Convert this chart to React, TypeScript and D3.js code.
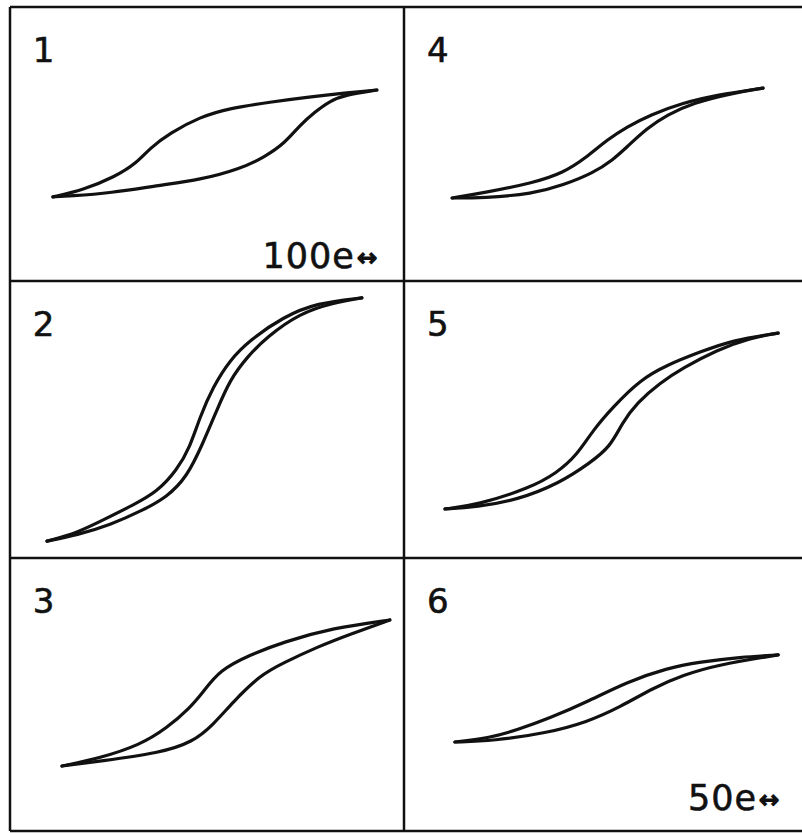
import * as d3 from "d3";

// panel frame (pixels of the photographed figure)
const colEdges = [10, 404, 802];
const rowEdges = [7, 281, 558, 831];

// loop data per panel: x = field in % of panel width, y = magnetization in % of panel height
type Pt = [number, number];

const loop1Up: Pt[] = [[10.9, 30.7], [18.5, 33.2], [26.6, 38.0], [32.2, 43.1], [35.5, 48.5], [40.6, 54.0], [48.2, 59.9], [55.8, 63.1], [66.0, 65.3], [76.1, 67.2], [85.0, 68.6], [93.1, 69.7]];
const loop1Down: Pt[] = [[10.9, 30.7], [15.2, 31.0], [25.4, 32.1], [38.1, 35.0], [48.2, 36.9], [58.4, 40.9], [64.7, 45.3], [69.8, 50.4], [73.6, 56.9], [77.4, 61.7], [81.2, 65.7], [85.0, 67.9], [93.1, 69.7]];

const loop2Up: Pt[] = [[9.4, 6.1], [17.0, 9.0], [24.6, 14.4], [31.2, 19.1], [37.3, 23.8], [42.4, 31.8], [45.7, 40.1], [48.2, 50.9], [51.5, 61.7], [55.8, 71.5], [60.9, 78.7], [69.3, 87.0], [77.9, 92.1], [89.3, 93.9]];
const loop2Down: Pt[] = [[9.4, 6.1], [17.0, 8.3], [25.4, 11.9], [33.8, 17.3], [39.8, 22.0], [44.9, 29.2], [49.0, 41.5], [52.5, 53.4], [55.8, 64.3], [60.2, 72.6], [65.2, 79.8], [73.6, 88.4], [82.0, 92.1], [89.3, 93.9]];

const loop3Up: Pt[] = [[13.2, 23.8], [22.8, 26.7], [33.0, 31.5], [39.8, 37.7], [45.7, 45.1], [49.0, 50.9], [53.3, 59.0], [60.9, 64.5], [69.3, 69.2], [82.0, 74.4], [96.4, 77.3]];
const loop3Down: Pt[] = [[13.2, 23.8], [22.8, 25.6], [38.1, 28.6], [46.4, 32.6], [51.5, 38.8], [56.6, 47.3], [63.5, 57.1], [69.3, 61.5], [77.9, 67.4], [87.1, 72.5], [96.4, 77.3]];

const loop4Up: Pt[] = [[12.1, 30.3], [19.8, 32.1], [32.4, 35.8], [40.0, 39.4], [46.0, 45.3], [51.0, 51.5], [56.0, 56.2], [61.8, 60.6], [70.1, 65.0], [78.6, 67.9], [90.2, 70.4]];
const loop4Down: Pt[] = [[12.1, 30.3], [19.8, 30.3], [32.4, 31.8], [40.0, 35.0], [47.5, 39.4], [52.5, 44.2], [56.0, 48.9], [61.1, 55.8], [66.1, 60.6], [72.6, 65.0], [82.7, 68.6], [90.2, 70.4]];

const loop5Up: Pt[] = [[10.3, 17.7], [18.3, 19.1], [31.7, 25.3], [38.4, 30.7], [43.5, 37.2], [47.5, 46.2], [52.5, 54.5], [59.3, 64.3], [66.1, 69.7], [74.4, 74.4], [82.7, 78.7], [94.0, 81.2]];
const loop5Down: Pt[] = [[10.3, 17.7], [18.3, 18.4], [28.4, 20.9], [39.2, 27.1], [46.7, 34.3], [51.8, 40.1], [54.8, 48.7], [58.5, 56.0], [64.3, 63.2], [70.1, 68.6], [78.6, 75.1], [86.9, 79.4], [94.0, 81.2]];

const loop6Up: Pt[] = [[12.8, 32.6], [21.6, 34.1], [28.4, 37.0], [36.7, 41.4], [46.0, 47.3], [56.0, 54.6], [66.1, 59.7], [74.4, 61.9], [84.4, 63.7], [94.0, 64.5]];
const loop6Down: Pt[] = [[12.8, 32.6], [22.4, 33.0], [35.9, 35.9], [46.0, 39.9], [54.3, 45.4], [62.6, 52.4], [70.1, 57.1], [78.6, 60.8], [94.0, 64.5]];

const panelLabels = ["1", "2", "3", "4", "5", "6"];
const branches: Pt[][][] = [
  [loop1Up, loop1Down],
  [loop2Up, loop2Down],
  [loop3Up, loop3Down],
  [loop4Up, loop4Down],
  [loop5Up, loop5Down],
  [loop6Up, loop6Down],
];
// field scale bars: [panel index, value, right %, baseline %]
const scaleBars: [number, string, number, number][] = [
  [0, "100e", 93.4, 4.7],
  [5, "50e", 94.5, 7.7],
];

const W = 802;
const H = 833;
const font = "'DejaVu Sans', sans-serif";

export default function App() {
  const panels = panelLabels.map((label, i) => {
    const col = Math.floor(i / 3);
    const row = i % 3;
    const x = d3.scaleLinear().domain([0, 100]).range([colEdges[col], colEdges[col + 1]]);
    const y = d3.scaleLinear().domain([0, 100]).range([rowEdges[row + 1], rowEdges[row]]);
    return { label, i, x, y };
  });

  return (
    <svg width={W} height={H} style={{ position: "absolute", left: 0, top: 0, background: "#fff" }}>
      <rect width={W} height={H} fill="#fff" />
      {/* grid frame */}
      <g stroke="#111" strokeWidth={2.5} fill="none">
        {rowEdges.map((r) => (
          <line key={r} x1={colEdges[0]} x2={colEdges[2]} y1={r} y2={r} />
        ))}
        <line x1={colEdges[0]} x2={colEdges[0]} y1={rowEdges[0]} y2={rowEdges[3]} />
        <line x1={colEdges[1]} x2={colEdges[1]} y1={rowEdges[0]} y2={rowEdges[3]} />
      </g>
      {panels.map(({ label, i, x, y }) => {
        const line = d3
          .line<Pt>()
          .x((d) => x(d[0]))
          .y((d) => y(d[1]))
          .curve(d3.curveBasis);
        return (
          <g key={label}>
            <text x={x(5.8)} y={y(80)} fontFamily={font} fontSize={34} fill="#111" stroke="#111" strokeWidth={0.6}>
              {label}
            </text>
            {branches[i].map((b, j) => (
              <path key={j} d={line(b) ?? ""} fill="none" stroke="#111" strokeWidth={3.2} strokeLinecap="round" />
            ))}
          </g>
        );
      })}
      {scaleBars.map(([pi, txt, rx, by]) => {
        const p = panels[pi];
        return (
          <text key={pi} x={p.x(rx)} y={p.y(by)} textAnchor="end" fontFamily={font} fontSize={35} letterSpacing={1} fill="#111" stroke="#111" strokeWidth={0.6}>
            {txt}
            <tspan fontSize={24} dx={2} dy={-2} strokeWidth={1.6}>↔</tspan>
          </text>
        );
      })}
    </svg>
  );
}
